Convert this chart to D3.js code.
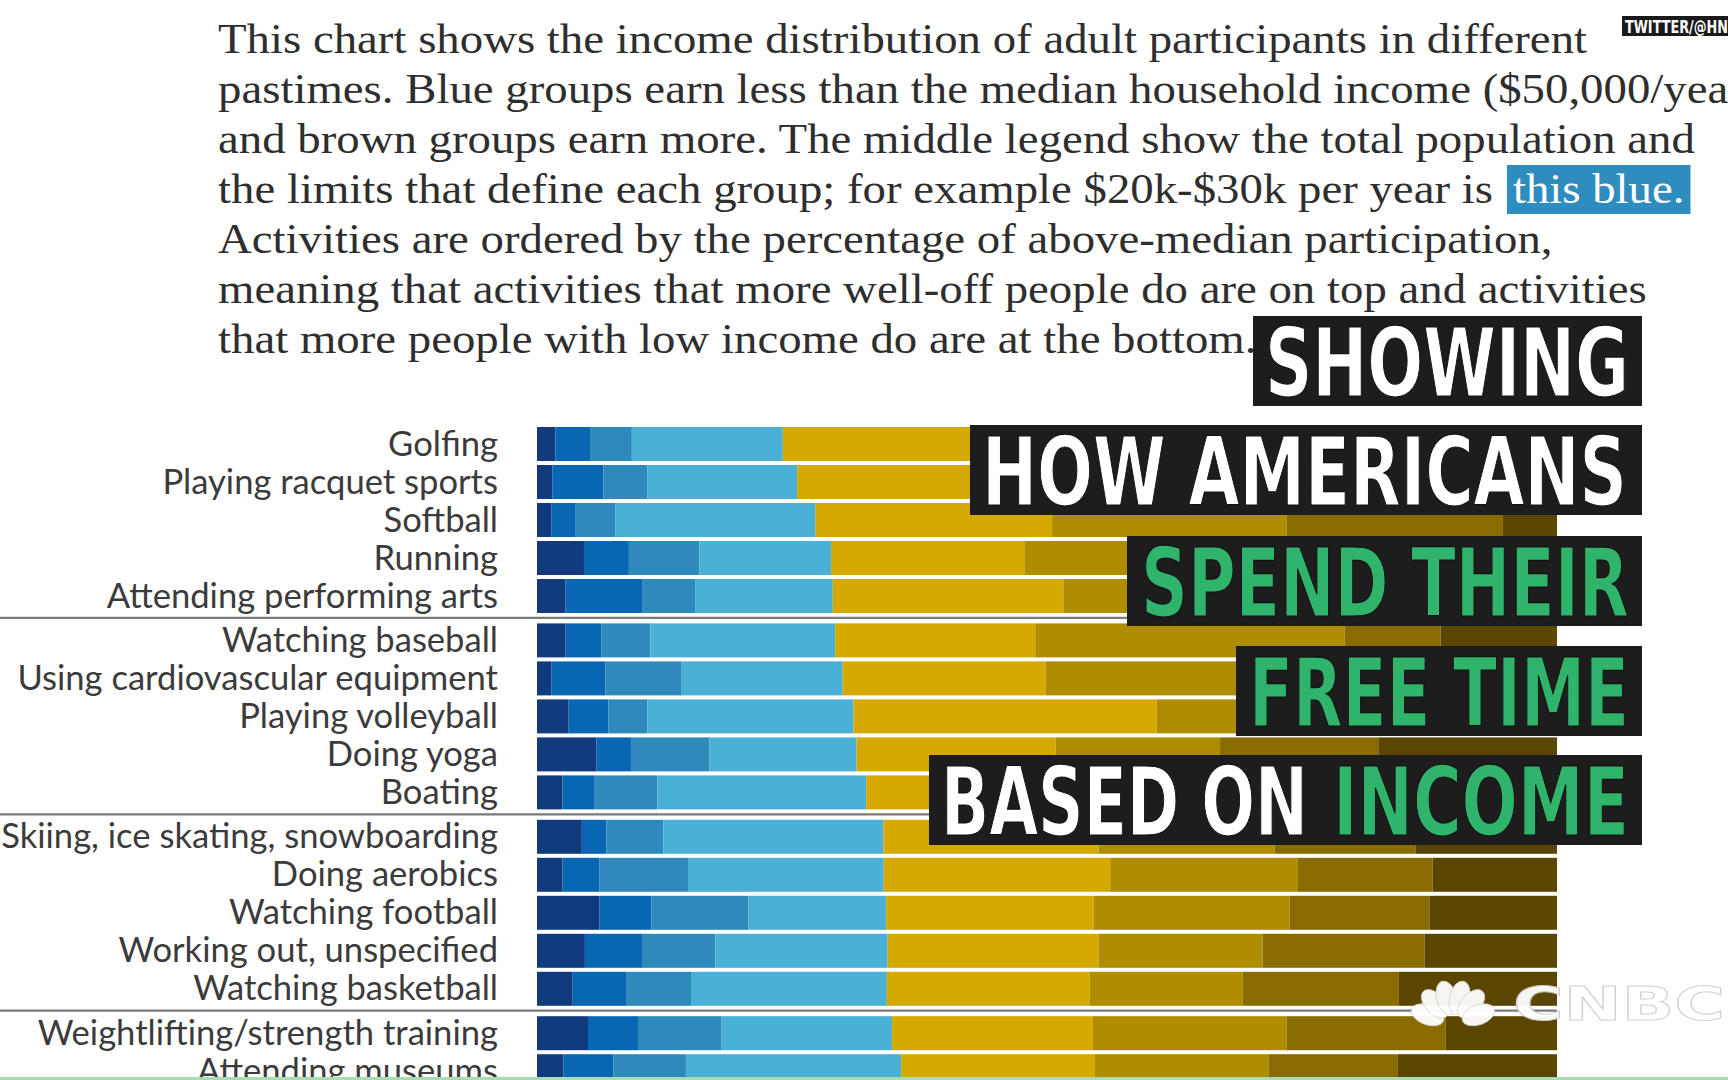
<!DOCTYPE html>
<html><head><meta charset="utf-8">
<script src="https://cdn.jsdelivr.net/npm/d3@7"></script>
<style>html,body{margin:0;padding:0;background:#fff;overflow:hidden}</style>
</head><body>
<svg id="c" width="1728" height="1080"></svg>
<script>
// ---------- DATA ----------
const activities = [
  "Golfing","Playing racquet sports","Softball","Running","Attending performing arts",
  "Watching baseball","Using cardiovascular equipment","Playing volleyball","Doing yoga","Boating",
  "Skiing, ice skating, snowboarding","Doing aerobics","Watching football","Working out, unspecified","Watching basketball",
  "Weightlifting/strength training","Attending museums"
];
const activityGroup = [0,0,0,0,0, 1,1,1,1,1, 2,2,2,2,2, 3,3];
const brackets = ["<$10k","$10k-$20k","$20k-$30k","$30k-$50k","$50k-$75k","$75k-$100k","$100k-$150k","$150k+"];
// share of participants (%) in each income bracket, one array per bracket, in activity order
const under10k  = [1.8,1.5,1.4,4.6,2.8, 2.8,1.4,3.1,5.8,2.5, 4.4,2.5,6.1,4.7,3.5, 5.0,2.6];
const k10to20   = [3.4,5.0,2.4,4.4,7.5, 3.5,5.3,3.9,3.4,3.1, 2.4,3.6,5.1,5.6,5.3, 4.9,4.9];
const k20to30   = [4.1,4.3,3.9,6.9,5.2, 4.8,7.5,3.8,7.7,6.2, 5.6,8.7,9.5,7.2,6.3, 8.2,7.1];
const k30to50   = [14.8,14.7,19.6,12.9,13.5, 18.1,15.8,20.2,14.4,20.5, 21.6,19.2,13.5,16.9,19.2, 16.7,21.1];
const k50to75   = [21.3,21.4,23.2,19.0,22.6, 19.6,19.9,29.7,19.5,21.0, 21.1,22.2,20.3,20.7,19.9, 19.7,19.0];
const k75to100  = [23.5,23.0,23.0,23.0,20.7, 30.3,24.0,14.0,16.1,20.6, 17.3,18.4,19.2,16.1,15.0, 19.0,17.0];
const k100to150 = [15.7,15.7,21.2,15.7,15.2, 9.4,14.2,14.2,15.5,13.7, 13.8,13.2,13.7,15.9,15.3, 15.6,12.7];
const over150k  = [15.4,14.4,5.3,13.4,12.5, 11.4,12.0,11.0,17.5,12.5, 13.9,12.2,12.5,13.0,15.5, 10.9,15.6];
const seriesValues = [under10k,k10to20,k20to30,k30to50,k50to75,k75to100,k100to150,over150k];

const introLines = [
  "This chart shows the income distribution of adult participants in different",
  "pastimes. Blue groups earn less than the median household income ($50,000/year)",
  "and brown groups earn more. The middle legend show the total population and",
  "the limits that define each group; for example $20k-$30k per year is",
  "Activities are ordered by the percentage of above-median participation,",
  "meaning that activities that more well-off people do are on top and activities",
  "that more people with low income do are at the bottom."
];
const highlightText = "this blue.";
const titleLines = [
  [{t:"SHOWING", green:false}],
  [{t:"HOW AMERICANS", green:false}],
  [{t:"SPEND THEIR", green:true}],
  [{t:"FREE TIME", green:true}],
  [{t:"BASED ON", green:false},{t:"INCOME", green:true}]
];

// ---------- STYLE ----------
const palette = ["#123b7e","#0866b3","#2d8aba","#4bb0d6","#d5a900","#b08c00","#8a6b00","#5b4600"];

const svg = d3.select("#c");

// ---------- BARS ----------
const rows = activities.map((a,i)=>{
  const r = {activity:a, idx:i, group:activityGroup[i]};
  brackets.forEach((b,k)=> r[b] = seriesValues[k][i]);
  return r;
});
const stacked = d3.stack().keys(brackets).offset(d3.stackOffsetExpand)(rows);

const x = d3.scaleLinear().domain([0,1]).range([537,1557]);
const groupGap = 6.4/38;
const pos = r => r.idx + r.group*groupGap;
const y = d3.scaleLinear().domain([0,1]).range([427,465]);
const barH = 34;

const color = d3.scaleOrdinal().domain(brackets).range(palette);

svg.append("g").selectAll("g").data(stacked).join("g")
  .attr("fill", d=>color(d.key))
  .selectAll("rect").data(d=>d).join("rect")
  .attr("x", d=>x(d[0]))
  .attr("width", d=>x(d[1])-x(d[0]))
  .attr("y", d=>y(pos(d.data)))
  .attr("height", barH);

// group separators
const firstOfGroup = rows.filter((r,i)=> i>0 && activityGroup[i]!==activityGroup[i-1]);
svg.append("g").selectAll("line").data(firstOfGroup).join("line")
  .attr("x1",0).attr("x2",x(1))
  .attr("y1", d=>y(pos(d))-5.5).attr("y2", d=>y(pos(d))-5.5)
  .attr("stroke","#7a7a7a").attr("stroke-width",2.2);

// labels
svg.append("g").selectAll("text").data(rows).join("text")
  .attr("x",498).attr("y", d=>y(pos(d))+barH/2+11.5)
  .attr("text-anchor","end")
  .attr("font-family","Lato, 'Open Sans', sans-serif")
  .attr("font-size",34.6).attr("fill","#3b3b3b")
  .text(d=>d.activity);

// ---------- INTRO PARAGRAPH ----------
const pg = svg.append("g");
const pfont = {family:"'Liberation Serif', 'DejaVu Serif', serif", size:43};
const ptexts = introLines.map((l,i)=> pg.append("text")
  .attr("x",0).attr("y",53+i*50)
  .attr("font-family",pfont.family).attr("font-size",pfont.size)
  .attr("fill","#2e2e2e").text(l));
// calibrate horizontal scale on the fully visible lines
const targets = {0:1377, 2:1476, 4:1333, 5:1424};
let tSum=0, nSum=0;
Object.entries(targets).forEach(([i,t])=>{ tSum+=t; nSum+=ptexts[+i].node().getComputedTextLength(); });
const sx = tSum / nSum;
pg.attr("transform",`translate(218,0) scale(${sx},1)`);
// highlight
const w4 = ptexts[3].node().getComputedTextLength();
const hx = w4 + 14/sx;
const htxt = pg.append("text").attr("x", hx + 6/sx).attr("y",53+3*50)
  .attr("font-family",pfont.family).attr("font-size",pfont.size)
  .attr("fill","#ffffff").text(highlightText);
const hw = htxt.node().getComputedTextLength();
pg.insert("rect","text:last-of-type")
  .attr("x",hx).attr("y",165).attr("width",hw+12/sx).attr("height",49)
  .attr("fill","#2f8cbf");
htxt.raise();

// ---------- TWITTER TAG ----------
svg.append("rect").attr("x",1622).attr("y",16).attr("width",106).attr("height",20).attr("fill","#1a1a1a");
svg.append("text").attr("x",1625).attr("y",33)
  .attr("font-family","'Liberation Sans Narrow','DejaVu Sans Condensed',sans-serif")
  .attr("font-weight","bold").attr("font-size",18).attr("fill","#fff")
  .attr("textLength",103).attr("lengthAdjust","spacingAndGlyphs")
  .text("TWITTER/@HN");

// ---------- TITLE OVERLAY ----------
const titleBoxes = [
  {x:1253, y:316, parts:[[1265,364]]},
  {x:970,  y:425, parts:[[982,645]]},
  {x:1127, y:536, parts:[[1141,488]]},
  {x:1236, y:646, parts:[[1249,380]]},
  {x:929,  y:755, parts:[[941,367],[1333,296]]}
];
const tg = svg.append("g");
titleBoxes.forEach((b,i)=>{
  tg.append("rect").attr("x",b.x).attr("y",b.y).attr("width",1642-b.x).attr("height",90)
    .attr("fill","#1d1d1d");
  titleLines[i].forEach((p,j)=>{
    tg.append("text").attr("x",b.parts[j][0]).attr("y",b.y+80)
      .attr("font-family","'Liberation Sans Narrow','DejaVu Sans Condensed',sans-serif")
      .attr("font-weight","bold").attr("font-size",94)
      .attr("fill", p.green ? "#30b46b" : "#ffffff")
      .attr("stroke","#111").attr("stroke-width",1.2)
      .attr("textLength",b.parts[j][1]).attr("lengthAdjust","spacingAndGlyphs")
      .text(p.t);
  });
});

// ---------- CNBC WATERMARK ----------
const lg = svg.append("g").attr("opacity",0.95);
const base = [1453,1024];
[-70,-42,-14,14,42,70].forEach(a=>{
  lg.append("ellipse").attr("cx",0).attr("cy",-27).attr("rx",10).attr("ry",17)
    .attr("fill","#fff").attr("stroke","#d8d8d8").attr("stroke-width",0.8)
    .attr("transform",`translate(${base[0]},${base[1]}) rotate(${a})`);
});
lg.append("text").attr("x",1513).attr("y",1020)
  .attr("font-family","'DejaVu Sans',sans-serif").attr("font-weight","bold")
  .attr("font-size",46).attr("fill","#fff").attr("stroke","#d0d0d0").attr("stroke-width",1)
  .attr("textLength",212).attr("lengthAdjust","spacingAndGlyphs")
  .text("CNBC");

// bottom frame line
svg.append("rect").attr("x",0).attr("y",1077).attr("width",1728).attr("height",3).attr("fill","#a9dcb2");
</script></body></html>
